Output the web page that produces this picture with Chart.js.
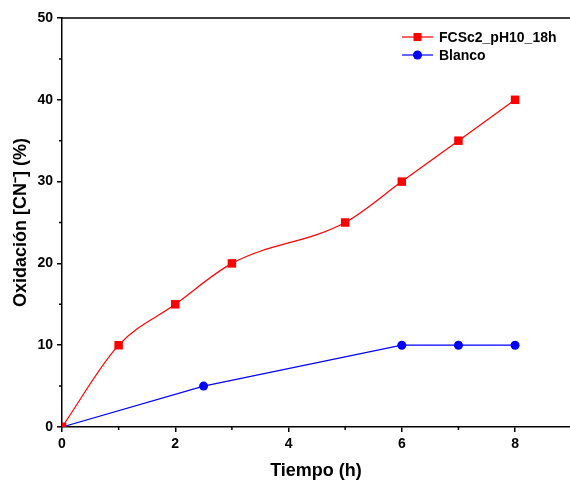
<!DOCTYPE html>
<html>
<head>
<meta charset="utf-8">
<script src="https://cdn.jsdelivr.net/npm/chart.js@4"></script>
<style>
  body { margin: 0; background: #fff; }
  #wrap { width: 570px; height: 486px; }
</style>
</head>
<body>
<div id="wrap"><canvas id="chart" width="570" height="486"></canvas></div>
<script>
// data
const fcsTime = [0, 1, 2, 3, 5, 6, 7, 8];
const fcsOx = [0, 10, 15, 20, 25, 30, 35, 40];
const blancoTime = [0, 2.5, 6, 7, 8];
const blancoOx = [0, 5, 10, 10, 10];
const xTicks = [0, 2, 4, 6, 8];
const xMinorTicks = [1, 3, 5, 7];
const yMinorTicks = [5, 15, 25, 35, 45];

const FONT = '"Liberation Sans", Arial, sans-serif';

const toPoints = (xs, ys) => xs.map((x, i) => ({ x: x, y: ys[i] }));

// minor ticks, top frame line and the in-plot legend
const extras = {
    id: 'extras',
    afterDraw(chart) {
        const ctx = chart.ctx;
        const area = chart.chartArea;
        const xs = chart.scales.x;
        const ys = chart.scales.y;
        ctx.save();
        ctx.strokeStyle = '#000';
        ctx.lineWidth = 1.5;
        ctx.beginPath();
        ctx.moveTo(area.left, area.top);
        ctx.lineTo(area.right, area.top);
        xMinorTicks.forEach(v => {
            const px = xs.getPixelForValue(v);
            ctx.moveTo(px, area.bottom);
            ctx.lineTo(px, area.bottom + 3);
        });
        yMinorTicks.forEach(v => {
            const py = ys.getPixelForValue(v);
            ctx.moveTo(area.left, py);
            ctx.lineTo(area.left - 3, py);
        });
        ctx.stroke();

        // legend
        const items = chart.data.datasets;
        ctx.font = 'bold 14px ' + FONT;
        ctx.textBaseline = 'middle';
        items.forEach((ds, i) => {
            const y = 37 + i * 18;
            const x0 = 402;
            ctx.strokeStyle = ds.borderColor;
            ctx.lineWidth = 1.2;
            ctx.beginPath();
            ctx.moveTo(x0, y);
            ctx.lineTo(x0 + 31, y);
            ctx.stroke();
            ctx.fillStyle = ds.pointBackgroundColor;
            if (ds.pointStyle === 'rect') {
                ctx.fillRect(x0 + 15.5 - 4, y - 4, 8, 8);
            } else {
                ctx.beginPath();
                ctx.arc(x0 + 15.5, y, 4.5, 0, Math.PI * 2);
                ctx.fill();
            }
            ctx.fillStyle = '#000';
            ctx.fillText(ds.label, x0 + 37, y + 1);
        });
        ctx.restore();
    }
};

new Chart(document.getElementById('chart'), {
    type: 'line',
    data: {
        datasets: [
            {
                label: 'FCSc2_pH10_18h',
                data: toPoints(fcsTime, fcsOx),
                borderColor: '#ff0000',
                backgroundColor: '#ff0000',
                pointBackgroundColor: '#ff0000',
                pointBorderWidth: 0,
                pointStyle: 'rect',
                pointRadius: 6,
                borderWidth: 1.2,
                tension: 0.4,
                cubicInterpolationMode: 'monotone'
            },
            {
                label: 'Blanco',
                data: toPoints(blancoTime, blancoOx),
                borderColor: '#0000ff',
                backgroundColor: '#0000ff',
                pointBackgroundColor: '#0000ff',
                pointBorderWidth: 0,
                pointStyle: 'circle',
                pointRadius: 4.5,
                borderWidth: 1.2,
                tension: 0
            }
        ]
    },
    options: {
        responsive: false,
        animation: false,
        layout: { autoPadding: false, padding: { left: 6, right: 0, top: 18, bottom: 0 } },
        plugins: {
            legend: { display: false },
            tooltip: { enabled: false }
        },
        scales: {
            x: {
                type: 'linear',
                min: 0,
                max: 8.97,
                afterBuildTicks(scale) { scale.ticks = xTicks.map(v => ({ value: v })); },
                afterFit(scale) { scale.height = 59; },
                border: { color: '#000', width: 1.5 },
                grid: { drawOnChartArea: false, drawTicks: true, tickLength: 5, color: '#000', lineWidth: 1.5 },
                ticks: {
                    color: '#000',
                    padding: 4,
                    maxRotation: 0,
                    font: { family: FONT, size: 14, weight: 'bold' }
                },
                title: {
                    display: true,
                    text: 'Tiempo (h)',
                    color: '#000',
                    padding: { top: 10 },
                    font: { family: FONT, size: 18, weight: 'bold' }
                }
            },
            y: {
                type: 'linear',
                min: 0,
                max: 50,
                afterFit(scale) { scale.width = 56; },
                border: { color: '#000', width: 1.5 },
                grid: { drawOnChartArea: false, drawTicks: true, tickLength: 5, color: '#000', lineWidth: 1.5 },
                ticks: {
                    stepSize: 10,
                    color: '#000',
                    padding: 4,
                    font: { family: FONT, size: 14, weight: 'bold' }
                },
                title: {
                    display: true,
                    text: 'Oxidación [CN⁻] (%)',
                    color: '#000',
                    padding: { bottom: 2 },
                    font: { family: FONT, size: 18, weight: 'bold' }
                }
            }
        }
    },
    plugins: [extras]
});
</script>
</body>
</html>
